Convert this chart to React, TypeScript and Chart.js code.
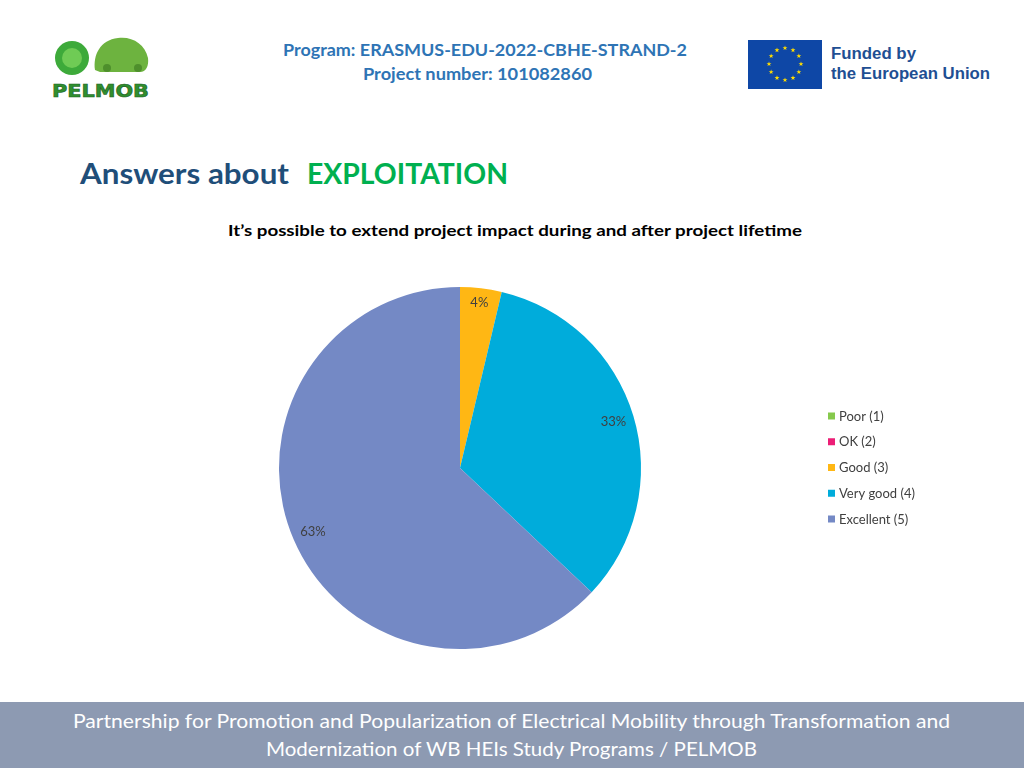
import React, { useEffect, useRef } from "react";
import { Chart, registerables } from "chart.js";

Chart.register(...registerables);

// ---- data ----
const categories = ["Poor (1)", "OK (2)", "Good (3)", "Very good (4)", "Excellent (5)"];
const responses = [0, 0, 1, 9, 17];
const sliceColors = ["#86C94C", "#EC1E76", "#FFB714", "#00ACDB", "#7489C5"];
const chartTitle = "It\u2019s possible to extend project impact during and after project lifetime";
const headerLines = ["Program: ERASMUS-EDU-2022-CBHE-STRAND-2", "Project number: 101082860"];
const footerLines = [
  "Partnership for Promotion and Popularization of Electrical Mobility through Transformation and",
  "Modernization of WB HEIs Study Programs / PELMOB",
];

const CANVAS_LEFT = 260;
const CANVAS_TOP = 270;

const labelFont = "13px Lato, 'Open Sans', sans-serif";

const percentLabels = {
  id: "percentLabels",
  afterDatasetsDraw(chart: any) {
    const ctx = chart.ctx;
    const meta = chart.getDatasetMeta(0);
    const data = chart.data.datasets[0].data as number[];
    const total = data.reduce((a, b) => a + b, 0);
    ctx.save();
    ctx.font = labelFont;
    ctx.fillStyle = "#404040";
    ctx.textAlign = "center";
    ctx.textBaseline = "middle";
    meta.data.forEach((arc: any, i: number) => {
      const v = data[i];
      if (!v) return;
      const p = arc.getProps(["x", "y", "startAngle", "endAngle", "outerRadius"], true);
      const mid = (p.startAngle + p.endAngle) / 2;
      const r = p.outerRadius * (v / total < 0.06 ? 0.92 : 0.885);
      const x = p.x + Math.cos(mid) * r;
      const y = p.y + Math.sin(mid) * r;
      ctx.fillText(Math.round((v / total) * 100) + "%", x, y);
    });
    ctx.restore();
  },
};

const sideLegend = {
  id: "sideLegend",
  afterDraw(chart: any) {
    const ctx = chart.ctx;
    const labels = chart.data.labels as string[];
    const colors = chart.data.datasets[0].backgroundColor as string[];
    ctx.save();
    ctx.font = labelFont;
    ctx.textAlign = "left";
    ctx.textBaseline = "middle";
    labels.forEach((lab, i) => {
      const cy = 146 + i * 25.75;
      ctx.fillStyle = colors[i];
      ctx.fillRect(568, cy - 3.5, 7, 7);
      ctx.fillStyle = "#404040";
      ctx.fillText(lab, 579, cy + 0.5);
    });
    ctx.restore();
  },
};

function PieChart() {
  const ref = useRef<HTMLCanvasElement | null>(null);
  useEffect(() => {
    if (!ref.current) return;
    const chart = new Chart(ref.current, {
      type: "pie",
      data: {
        labels: categories,
        datasets: [
          {
            data: responses,
            backgroundColor: sliceColors,
            borderWidth: 0,
          },
        ],
      },
      options: {
        animation: false,
        responsive: false,
        maintainAspectRatio: false,
        events: [],
        layout: { padding: { left: 19, top: 17, right: 339, bottom: 21 } },
        plugins: {
          legend: { display: false },
          tooltip: { enabled: false },
        },
      },
      plugins: [percentLabels, sideLegend],
    });
    return () => chart.destroy();
  }, []);
  return (
    <canvas
      ref={ref}
      width={720}
      height={400}
      style={{ position: "absolute", left: CANVAS_LEFT, top: CANVAS_TOP, width: 720, height: 400 }}
    />
  );
}

function starPoints(cx: number, cy: number, R: number) {
  const pts: string[] = [];
  for (let k = 0; k < 10; k++) {
    const r = k % 2 === 0 ? R : R * 0.4;
    const a = -Math.PI / 2 + (k * Math.PI) / 5;
    pts.push((cx + Math.cos(a) * r).toFixed(2) + "," + (cy + Math.sin(a) * r).toFixed(2));
  }
  return pts.join(" ");
}

function Decorations() {
  const stars = [];
  for (let i = 0; i < 12; i++) {
    const a = (i * Math.PI) / 6;
    stars.push(
      <polygon key={i} points={starPoints(785 + Math.cos(a) * 16, 64 + Math.sin(a) * 16, 2.6)} fill="#FFDD00" />
    );
  }
  const calibri = "Lato, 'Open Sans', sans-serif";
  return (
    <svg width={1024} height={768} style={{ position: "absolute", left: 0, top: 0 }}>
      <rect x={0} y={0} width={1024} height={768} fill="#FFFFFF" />
      {/* PELMOB logo */}
      <circle cx={72} cy={58} r={17} fill="#3DAA3A" />
      <circle cx={72} cy={58} r={10} fill="#6FCB55" />
      <path d="M95 70 C93 55, 100 40, 118 38 C132 36, 145 44, 148 58 C149 66, 146 72, 140 72 L100 72 Z" fill="#6DB33F" />
      <circle cx={107} cy={68} r={4} fill="#4E8F2C" />
      <circle cx={138} cy={68} r={4} fill="#4E8F2C" />
      <text
        x={52}
        y={97}
        fontFamily="'DejaVu Sans', sans-serif"
        fontWeight="bold"
        fontSize={18}
        fill="#2F8F2F"
        stroke="#1E5E1E"
        strokeWidth={0.6}
        textLength={97}
        lengthAdjust="spacingAndGlyphs"
      >
        PELMOB
      </text>
      {/* header */}
      <text x={283} y={56} fontFamily={calibri} fontWeight="bold" fontSize={17} fill="#2E74B5" textLength={404} lengthAdjust="spacingAndGlyphs">
        {headerLines[0]}
      </text>
      <text x={363} y={80} fontFamily={calibri} fontWeight="bold" fontSize={17} fill="#2E74B5" textLength={229} lengthAdjust="spacingAndGlyphs">
        {headerLines[1]}
      </text>
      {/* EU logo */}
      <rect x={748} y={40} width={74} height={49} fill="#0E47A6" />
      {stars}
      <text x={831} y={59} fontFamily="'Liberation Sans', Arial, sans-serif" fontWeight="bold" fontSize={16} fill="#1F4F93" textLength={85} lengthAdjust="spacingAndGlyphs">
        Funded by
      </text>
      <text x={831} y={79} fontFamily="'Liberation Sans', Arial, sans-serif" fontWeight="bold" fontSize={16} fill="#1F4F93" textLength={159} lengthAdjust="spacingAndGlyphs">
        the European Union
      </text>
      {/* section title */}
      <text x={80} y={184} fontFamily={calibri} fontWeight="bold" fontSize={29} fill="#1F4E79" textLength={209} lengthAdjust="spacingAndGlyphs">
        Answers about
      </text>
      <text x={307} y={184} fontFamily={calibri} fontWeight="bold" fontSize={29} fill="#00B050" textLength={201} lengthAdjust="spacingAndGlyphs">
        EXPLOITATION
      </text>
      {/* chart title */}
      <text x={228} y={236} fontFamily={calibri} fontWeight="bold" fontSize={16} fill="#000000" textLength={574} lengthAdjust="spacingAndGlyphs">
        {chartTitle}
      </text>
      {/* footer */}
      <rect x={0} y={702} width={1024} height={66} fill="#8D9AB2" />
      <text x={73} y={728} fontFamily={calibri} fontSize={20} fill="#FFFFFF" textLength={877} lengthAdjust="spacingAndGlyphs">
        {footerLines[0]}
      </text>
      <text x={266} y={756} fontFamily={calibri} fontSize={20} fill="#FFFFFF" textLength={491} lengthAdjust="spacingAndGlyphs">
        {footerLines[1]}
      </text>
    </svg>
  );
}

export default function App() {
  return (
    <div style={{ position: "fixed", left: 0, top: 0, width: 1024, height: 768, background: "#FFFFFF", overflow: "hidden" }}>
      <Decorations />
      <PieChart />
    </div>
  );
}
